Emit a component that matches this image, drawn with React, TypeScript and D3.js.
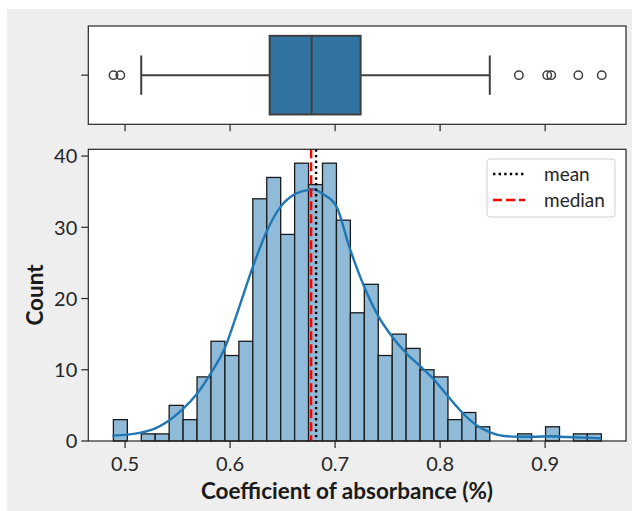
import React from 'react';
import * as d3 from 'd3';

// histogram bins (35 equal bins)
const binStart = 0.4889;
const binWidth = 0.013274;
const counts = [3, 0, 1, 1, 5, 3, 9, 14, 12, 14, 34, 37, 29, 39, 36, 39, 31, 18, 22, 12, 15, 13, 10, 9, 3, 4, 2, 0, 0, 1, 0, 2, 0, 1, 1];

// kde curve (x value, scaled density in counts)
const kdeX = [0.4879, 0.5022, 0.5149, 0.5283, 0.5413, 0.5549, 0.5683, 0.5816, 0.595, 0.6079, 0.6213, 0.6343, 0.6476, 0.661, 0.6746, 0.6793, 0.6879, 0.701, 0.7143, 0.7276, 0.7413, 0.754, 0.7676, 0.781, 0.7943, 0.8076, 0.821, 0.8343, 0.8476, 0.861, 0.8736, 0.8889, 0.9048, 0.9206, 0.9365, 0.953];
const kdeY = [0.75, 0.9, 1.17, 1.74, 2.8, 4.46, 6.6, 9.5, 13.05, 18.45, 24.3, 29.25, 32.8, 34.6, 35.26, 35.35, 34.7, 33, 26.9, 21.7, 17.5, 14.7, 12.35, 10.5, 8.6, 6.24, 4, 2.25, 1.22, 0.7, 0.6, 0.6, 0.66, 0.56, 0.47, 0.38];

const meanValue = 0.6819;
const medianValue = 0.6772;

// box plot
const q1 = 0.6377;
const q3 = 0.7243;
const boxMedian = 0.6777;
const whiskerLow = 0.5154;
const whiskerHigh = 0.8473;
const outliers = [0.489, 0.4955, 0.875, 0.902, 0.9058, 0.9316, 0.9539];

const xTicks = [0.5, 0.6, 0.7, 0.8, 0.9];
const yTicks = [0, 10, 20, 30, 40];

const W = 632;
const H = 511;
const left = 88.3;
const right = 626;
const histTop = 149.3;
const histBottom = 441;
const boxTop = 26;
const boxBottom = 124.3;

const font = "Lato, 'DejaVu Sans', sans-serif";
const ink = '#262626';

export default function App() {
  const x = d3.scaleLinear().domain([0.465, 0.977]).range([left, right]);
  const y = d3.scaleLinear().domain([0, 40.95]).range([histBottom, histTop]);
  const yb = d3.scaleLinear().domain([-0.5, 0.5]).range([boxTop, boxBottom]);

  const kdeLine = d3.line<number>()
    .x((_, i) => x(kdeX[i]))
    .y(d => y(d))
    .curve(d3.curveMonotoneX);

  const boxColor = '#3274a1';
  const boxEdge = '#3f3f3f';

  return (
    <>
      <style>{`body{margin:0}`}</style>
      <svg width={W} height={H} style={{ display: 'block', fontFamily: font }}>
        <rect x={0} y={0} width={W} height={H} fill="#fff" />
        <rect x={7} y={9} width={W - 7} height={H - 9} fill="#eeeeee" />

        {/* box plot panel */}
        <rect x={left} y={boxTop} width={right - left} height={boxBottom - boxTop} fill="#fff" />
        <g stroke={boxEdge} strokeWidth={2} fill="none">
          <line x1={x(whiskerLow)} x2={x(q1)} y1={yb(0)} y2={yb(0)} />
          <line x1={x(q3)} x2={x(whiskerHigh)} y1={yb(0)} y2={yb(0)} />
          <line x1={x(whiskerLow)} x2={x(whiskerLow)} y1={yb(-0.2)} y2={yb(0.2)} />
          <line x1={x(whiskerHigh)} x2={x(whiskerHigh)} y1={yb(-0.2)} y2={yb(0.2)} />
          <rect x={x(q1)} y={yb(-0.4)} width={x(q3) - x(q1)} height={yb(0.4) - yb(-0.4)} fill={boxColor} />
          <line x1={x(boxMedian)} x2={x(boxMedian)} y1={yb(-0.4)} y2={yb(0.4)} />
          {outliers.map((o, i) => (
            <circle key={i} cx={x(o)} cy={yb(0)} r={4.2} strokeWidth={1.5} />
          ))}
        </g>
        <rect x={left} y={boxTop} width={right - left} height={boxBottom - boxTop} fill="none" stroke={ink} strokeWidth={1.2} />
        <line x1={left - 7} x2={left} y1={yb(0)} y2={yb(0)} stroke={ink} strokeWidth={1.2} />
        {xTicks.map(t => (
          <line key={t} x1={x(t)} x2={x(t)} y1={boxBottom} y2={boxBottom + 7} stroke={ink} strokeWidth={1.2} />
        ))}

        {/* histogram panel */}
        <rect x={left} y={histTop} width={right - left} height={histBottom - histTop} fill="#fff" />
        <g>
          {counts.map((c, i) => c > 0 && (
            <rect key={i}
              x={x(binStart + i * binWidth)}
              y={y(c)}
              width={x(binStart + (i + 1) * binWidth) - x(binStart + i * binWidth)}
              height={y(0) - y(c)}
              fill="#8fbbd9"
              stroke="#1a1a1a"
              strokeWidth={1.3}
            />
          ))}
        </g>
        <path d={kdeLine(kdeY) || ''} fill="none" stroke="#1f77b4" strokeWidth={2.4} />
        <line x1={x(meanValue)} x2={x(meanValue)} y1={histTop} y2={histBottom}
          stroke="#000" strokeWidth={2.4} strokeDasharray="2.4 3.2" />
        <line x1={x(medianValue)} x2={x(medianValue)} y1={histTop} y2={histBottom}
          stroke="#ff0000" strokeWidth={2.4} strokeDasharray="9 4" />
        <rect x={left} y={histTop} width={right - left} height={histBottom - histTop} fill="none" stroke={ink} strokeWidth={1.2} />

        {yTicks.map(t => (
          <g key={t}>
            <line x1={left - 7} x2={left} y1={y(t)} y2={y(t)} stroke={ink} strokeWidth={1.2} />
            <text x={left - 11} y={y(t)} dy="0.36em" textAnchor="end" fontSize={20} fill={ink}>{t}</text>
          </g>
        ))}
        {xTicks.map(t => (
          <g key={t}>
            <line x1={x(t)} x2={x(t)} y1={histBottom} y2={histBottom + 7} stroke={ink} strokeWidth={1.2} />
            <text x={x(t)} y={471} textAnchor="middle" fontSize={20} fill={ink}>{t.toFixed(1)}</text>
          </g>
        ))}

        <text x={347} y={499} textAnchor="middle" fontSize={22.5} fontWeight="bold" fill="#1a1a1a">
          Coefficient of absorbance (%)
        </text>
        <text transform={`translate(43,295) rotate(-90)`} textAnchor="middle" fontSize={22.5} fontWeight="bold" fill="#1a1a1a">
          Count
        </text>

        {/* legend */}
        <rect x={487} y={159} width={128} height={58} rx={3} fill="#fff" fillOpacity={0.85} stroke="#d0d0d0" strokeWidth={1} />
        <line x1={493} x2={525} y1={174} y2={174} stroke="#000" strokeWidth={2.4} strokeDasharray="2.4 3.2" />
        <line x1={493} x2={525} y1={200} y2={200} stroke="#ff0000" strokeWidth={2.4} strokeDasharray="9 4" />
        <text x={544} y={174} dy="0.36em" fontSize={19} fill={ink}>mean</text>
        <text x={544} y={200} dy="0.36em" fontSize={19} fill={ink}>median</text>
      </svg>
    </>
  );
}
